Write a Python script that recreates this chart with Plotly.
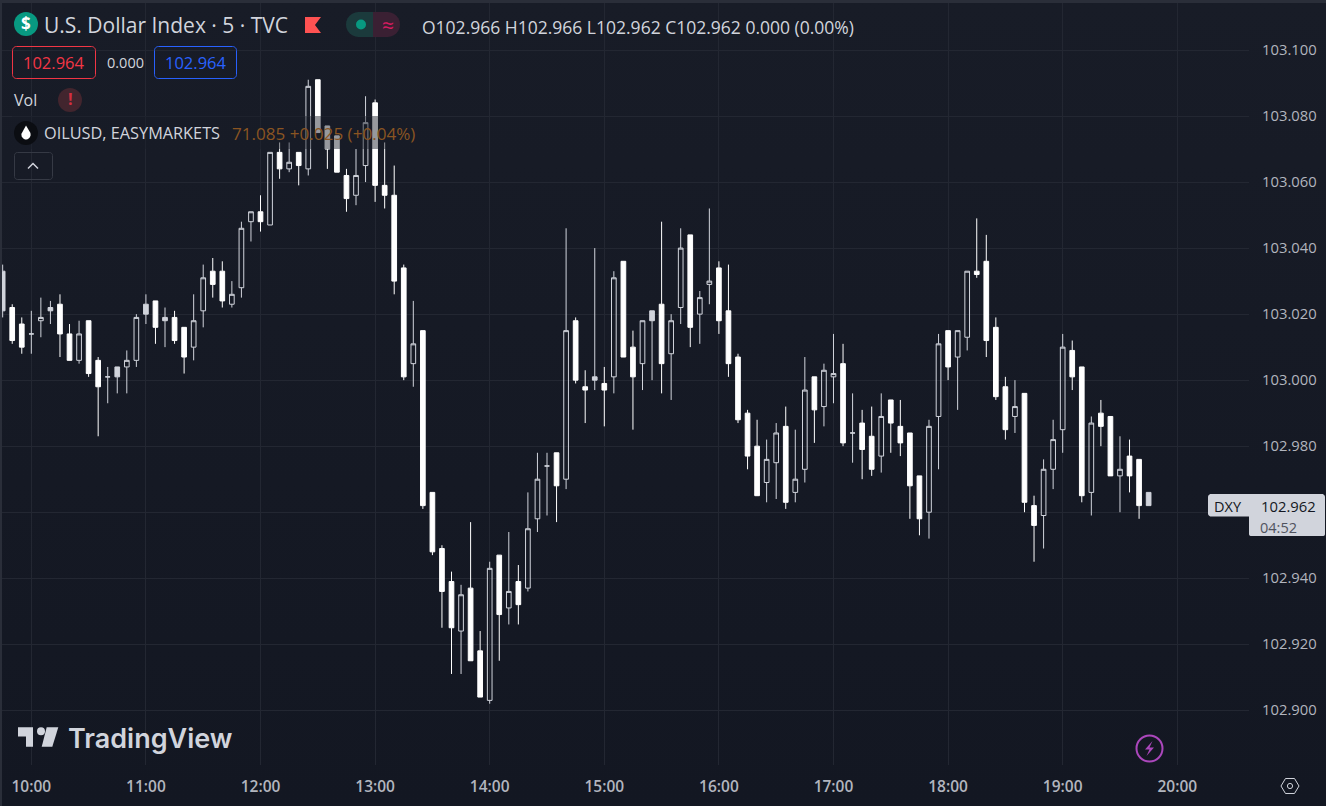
import math
import pandas as pd
import plotly.graph_objects as go

times = pd.date_range("2024-11-18 09:45", periods=121, freq="5min")

open_ = [
103.033,103.022,103.017,103.014,103.018,103.022,103.023,103.014,103.006,103.018,
103.006,103.001,103.004,103.004,103.006,103.023,103.024,103.019,103.019,103.016,
103.010,103.021,103.033,103.033,103.023,103.028,103.048,103.051,103.047,103.069,
103.064,103.069,103.064,103.091,103.077,103.074,103.062,103.056,103.065,103.084,
103.059,103.056,103.034,103.005,103.015,102.966,102.949,102.939,102.924,102.937,
102.918,102.903,102.947,102.931,102.939,102.937,102.958,102.974,102.978,102.970,
103.018,102.998,103.001,102.999,103.001,103.036,103.010,103.005,103.021,103.023,
103.008,103.022,103.044,103.020,103.029,103.034,103.021,103.007,102.990,102.980,
102.969,102.975,102.986,102.966,102.973,103.001,102.992,103.001,103.005,102.984,
102.987,102.983,102.977,102.994,102.986,102.984,102.971,102.960,102.989,103.015,
103.007,103.013,103.033,103.036,103.016,102.998,102.989,102.996,102.962,102.959,
102.973,102.985,103.009,103.004,102.966,102.990,102.989,102.971,102.977,102.976,
102.966]
high = [
103.035,103.023,103.019,103.021,103.025,103.024,103.026,103.017,103.018,103.018,
103.007,103.004,103.004,103.009,103.020,103.026,103.024,103.022,103.021,103.016,
103.026,103.035,103.037,103.036,103.030,103.048,103.051,103.056,103.069,103.072,
103.072,103.069,103.091,103.091,103.077,103.074,103.064,103.070,103.086,103.085,
103.072,103.065,103.035,103.024,103.015,102.966,102.950,102.942,102.938,102.957,
102.924,102.945,102.947,102.954,102.944,102.966,102.978,102.978,102.978,103.046,
103.019,103.003,103.040,103.004,103.033,103.036,103.015,103.018,103.021,103.048,
103.020,103.046,103.044,103.027,103.052,103.036,103.035,103.008,102.991,102.988,
102.982,102.987,102.992,102.985,103.007,103.001,103.005,103.014,103.011,102.996,
102.991,102.992,102.996,102.994,102.994,102.984,102.971,102.988,103.014,103.015,
103.015,103.033,103.049,103.044,103.019,103.001,103.000,102.996,102.965,102.976,
102.988,103.014,103.012,103.004,102.989,102.994,102.989,102.983,102.982,102.976,
102.966]
low = [
103.019,103.011,103.008,103.008,103.013,103.017,103.007,103.006,103.005,103.001,
102.983,102.993,102.996,102.996,103.004,103.017,103.011,103.010,103.011,103.002,
103.006,103.016,103.025,103.022,103.022,103.025,103.042,103.045,103.047,103.061,
103.063,103.059,103.062,103.075,103.064,103.063,103.051,103.053,103.060,103.054,
103.052,103.026,103.000,102.998,102.961,102.947,102.925,102.911,102.911,102.915,
102.904,102.902,102.915,102.926,102.926,102.936,102.954,102.959,102.957,102.967,
102.999,102.987,102.997,102.986,102.996,103.007,102.985,102.997,103.000,102.996,
102.994,103.017,103.010,103.011,103.023,103.014,103.001,102.987,102.973,102.965,
102.963,102.964,102.961,102.963,102.969,102.981,102.986,102.993,102.980,102.975,
102.970,102.971,102.972,102.978,102.977,102.958,102.953,102.952,102.973,103.000,
102.991,103.009,103.031,103.007,102.994,102.982,102.984,102.960,102.945,102.949,
102.967,102.978,102.997,102.963,102.959,102.980,102.971,102.960,102.966,102.958,
102.962]
close = [
103.021,103.012,103.010,103.014,103.019,103.021,103.014,103.006,103.014,103.002,
102.998,103.001,103.001,103.006,103.019,103.020,103.016,103.018,103.012,103.007,
103.018,103.031,103.029,103.024,103.026,103.046,103.051,103.048,103.069,103.064,
103.066,103.065,103.089,103.075,103.070,103.063,103.055,103.062,103.078,103.059,
103.056,103.030,103.001,103.011,102.962,102.948,102.936,102.925,102.935,102.915,
102.904,102.943,102.929,102.936,102.932,102.955,102.970,102.974,102.968,103.015,
103.000,102.997,103.000,102.997,103.031,103.007,103.001,103.018,103.018,103.005,
103.018,103.040,103.016,103.025,103.030,103.018,103.005,102.988,102.977,102.965,
102.976,102.984,102.963,102.970,102.997,102.991,103.003,103.002,102.981,102.984,
102.979,102.973,102.989,102.987,102.981,102.968,102.958,102.986,103.011,103.004,
103.015,103.033,103.032,103.012,102.995,102.985,102.992,102.963,102.956,102.973,
102.982,103.010,103.001,102.965,102.987,102.986,102.971,102.973,102.971,102.962,
102.962]

price_ticks = [102.90, 102.92, 102.94, 102.96, 102.98, 103.00, 103.02, 103.04, 103.06, 103.08, 103.10]
price_tick_labels = ["102.900", "102.920", "102.940", "", "102.980", "103.000", "103.020", "103.040", "103.060", "103.080", "103.100"]

BG_TOP, BG_BOT = "#181c27", "#131722"
GRID = "#232732"
HOLLOW = "#d1d4dc"
TEXT = "#d1d4dc"
AXIS_TEXT = "#b2b5be"
W, H = 1326, 806
L, R, T, B = 2, 77, 3, 41
PW, PH = W - L - R, H - T - B
FONT = "Open Sans"

def px(x): return (x - L) / PW
def py(y): return 1 - (y - T) / PH

def split(kind):
    idx = []
    for i in range(len(times)):
        prev = close[i - 1] if i else close[i]
        if close[i] >= open_[i]:
            k = "hollow"
        elif close[i] >= prev:
            k = "grey"
        else:
            k = "white"
        if k == kind:
            idx.append(i)
    return idx

def candle(kind, line, fill):
    idx = split(kind)
    side = dict(line=dict(color=line, width=1), fillcolor=fill)
    return go.Candlestick(
        x=[times[i] for i in idx], open=[open_[i] for i in idx], high=[high[i] for i in idx],
        low=[low[i] for i in idx], close=[close[i] for i in idx],
        increasing=side, decreasing=side, whiskerwidth=0, showlegend=False, hoverinfo="skip")

fig = go.Figure([
    candle("hollow", HOLLOW, "rgba(0,0,0,0)"),
    candle("grey", HOLLOW, HOLLOW),
    candle("white", "#ffffff", "#ffffff"),
])

shapes, notes = [], []

def poly(pts, close_path=True):
    s = "M" + " L".join(f"{px(x):.5f},{py(y):.5f}" for x, y in pts)
    return s + (" Z" if close_path else "")

def rrect_pts(x0, y0, x1, y1, r):
    pts = []
    for cx, cy, a0 in [(x1 - r, y0 + r, -90), (x1 - r, y1 - r, 0), (x0 + r, y1 - r, 90), (x0 + r, y0 + r, 180)]:
        for k in range(7):
            a = math.radians(a0 + 15 * k)
            pts.append((cx + r * math.cos(a), cy + r * math.sin(a)))
    return pts

def path(d, fill="rgba(0,0,0,0)", line="rgba(0,0,0,0)", width=0):
    shapes.append(dict(type="path", xref="paper", yref="paper", path=d, fillcolor=fill,
                       line=dict(color=line, width=width), layer="above"))

def rrect(x0, y0, x1, y1, r, fill="rgba(0,0,0,0)", line="rgba(0,0,0,0)", width=0):
    path(poly(rrect_pts(x0, y0, x1, y1, r)), fill, line, width)

def circle(cx, cy, r, fill="rgba(0,0,0,0)", line="rgba(0,0,0,0)", width=0):
    shapes.append(dict(type="circle", xref="paper", yref="paper", x0=px(cx - r), x1=px(cx + r),
                       y0=py(cy + r), y1=py(cy - r), fillcolor=fill, line=dict(color=line, width=width), layer="above"))

def rect(x0, y0, x1, y1, fill):
    shapes.append(dict(type="rect", xref="paper", yref="paper", x0=px(x0), x1=px(x1), y0=py(y1), y1=py(y0),
                       fillcolor=fill, line=dict(width=0), layer="above"))

def text(x, y, s, size=14, color=TEXT, anchor="left", family=FONT, weight=None):
    f = dict(size=size, color=color, family=family)
    if weight:
        f["weight"] = weight
    notes.append(dict(xref="paper", yref="paper", x=px(x), y=py(y), text=s, showarrow=False,
                      xanchor=anchor, yanchor="middle", font=f, borderpad=0, borderwidth=0))

# frame strips
rect(0, 0, W, 3, "#2a2e39")
rect(0, 0, 2, H, "#2a2e39")
# dimmed legend row over the candles
rect(12, 116, 420, 149, "rgba(24,28,39,0.45)")

# header
circle(26, 24, 12, "#089981")
text(26, 24, "$", 17, "#ffffff", "center", weight=700)
text(44, 25, "U.S. Dollar Index · 5 · TVC", 21)
path(poly([(305, 17), (321, 17), (315, 25), (321, 33), (305, 33)]), "#ff5252")
rrect(346, 12, 385, 37, 12.5, "#1b3a3c")
rrect(361, 12, 400, 37, 12.5, "#3a2033")
rect(358, 12, 373, 37, "#1b3a3c")
rect(373, 12, 388, 37, "#3a2033")
circle(361, 24.5, 5, "#089981")
text(388, 25, "≈", 21, "#d81b60", "center")
text(422, 27, "O102.966 H102.966 L102.962 C102.962 0.000 (0.00%)", 17.5)

rrect(12.5, 46.5, 95.5, 78.5, 4, line="#f23645", width=1)
text(54, 62, "102.964", 16.5, "#f23645", "center")
text(125, 62, "0.000", 14.5, TEXT, "center")
rrect(154.5, 46.5, 236.5, 78.5, 4, line="#2962ff", width=1)
text(195.5, 62, "102.964", 16.5, "#2962ff", "center")

text(14, 100, "Vol", 16)
circle(70, 100, 12, "#42252e")
text(70, 99, "!", 16, "#d32f3f", "center", weight=700)

circle(26, 133, 12, "#0b0d12")
drop = [(26, 125.5)] + [(26 + 4.6 * math.cos(math.radians(a)), 134.5 + 5 * math.sin(math.radians(a))) for a in range(-20, 205, 15)]
path(poly(drop), "#ffffff")
text(44, 133, "OILUSD, EASYMARKETS", 16.3)
text(232, 133, "71.085 +0.025 (+0.04%)", 17.1, "#8a5522")

rrect(14.5, 152.5, 52.5, 179.5, 3, line="#363a45", width=1)
path(poly([(28, 168.5), (33, 163.5), (38, 168.5)], False), line="#d1d4dc", width=1.5)

# watermark
path(poly([(18, 727.3), (33, 727.3), (33, 746.7), (26, 746.7), (26, 736.5), (18, 736.5)]), TEXT)
circle(41, 731.2, 4, TEXT)
path(poly([(46.7, 727.3), (58.3, 727.3), (52.3, 746.7), (41.7, 746.7)]), TEXT)
text(68, 738, "TradingView", 27, TEXT, family="Inter", weight=600)

# lightning badge
circle(1149.5, 748.5, 13, line="#ab47bc", width=2)
path(poly([(1152.5, 741), (1145, 749.5), (1149.5, 749.5), (1146.5, 756), (1154, 747.5), (1149.5, 747.5)]), "#ab47bc")

# settings hexagon
path(poly([(1281, 786), (1285.5, 778.5), (1294.5, 778.5), (1299, 786), (1294.5, 793.5), (1285.5, 793.5)]), line="#d1d4dc", width=1)
circle(1290, 786, 2.6, line="#d1d4dc", width=1)

# price label
rrect(1208, 494, 1325, 516.5, 3, HOLLOW)
rrect(1249, 505, 1325, 536, 2, HOLLOW)
text(1214, 506, "DXY", 14.5, "#131722")
text(1261, 506, "102.962", 14.8, "#131722")
text(1260, 527, "04:52", 14.5, "#50535e")

fig.update_layout(
    width=W, height=H, margin=dict(l=L, r=R, t=T, b=B, pad=0), autosize=False,
    paper_bgcolor="rgba(0,0,0,0)", plot_bgcolor="rgba(0,0,0,0)",
    boxgap=0.3, boxmode="overlay", showlegend=False, hovermode=False,
    shapes=shapes, annotations=notes,
    font=dict(family=FONT, color=AXIS_TEXT, size=14),
    xaxis=dict(type="date", range=["2024-11-18 09:44:39", "2024-11-18 20:37:33"],
               tick0="2024-11-18 10:00", dtick=3600000, tickformat="%H:%M",
               showgrid=True, gridcolor=GRID, gridwidth=1, zeroline=False, showline=False,
               ticks="", rangeslider=dict(visible=False), ticklabelstandoff=10,
               tickfont=dict(size=15.5, color=AXIS_TEXT, family=FONT, weight=600)),
    yaxis=dict(side="right", range=[102.88343, 103.11424], tickmode="array",
               tickvals=price_ticks, ticktext=price_tick_labels,
               showgrid=True, gridcolor=GRID, gridwidth=1, zeroline=False, showline=False,
               ticks="", ticklabelstandoff=12, tickfont=dict(size=14.8, color=AXIS_TEXT, family=FONT)),
)

fig.write_html("out.html", config=dict(displayModeBar=False, responsive=False),
               post_script=f"document.documentElement.style.background='#131722';document.body.style.margin='0';document.body.style.background='linear-gradient(to bottom,{BG_TOP},{BG_BOT})';document.body.style.height='806px';document.body.style.overflow='hidden';")
